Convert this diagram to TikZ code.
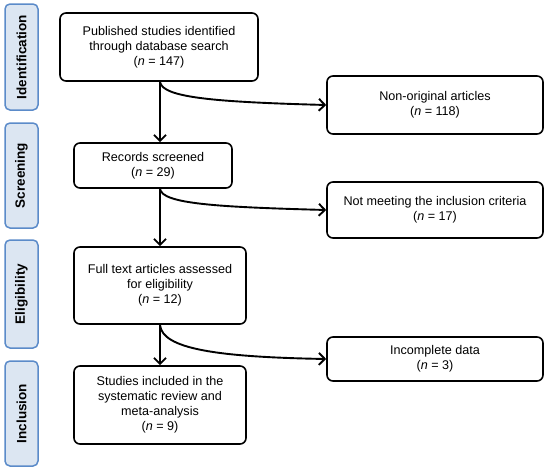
\documentclass[tikz,border=0pt]{standalone}
\usepackage{fontspec}
\setmainfont{Liberation Sans}
\usetikzlibrary{positioning,arrows.meta}
\definecolor{stageblue}{HTML}{5B8BC9}
\definecolor{stagefill}{HTML}{DCE6F2}
\tikzset{
  box/.style={draw,line width=1.6pt,rounded corners=6pt,fill=white,align=center,
    font=\fontsize{12.6}{15}\selectfont,inner sep=2pt},
  stage/.style={draw=stageblue,fill=stagefill,line width=1.5pt,rounded corners=5pt,
    rotate=90,font=\fontsize{13.5}{16}\selectfont\bfseries,minimum height=33pt,inner sep=0pt},
  flow/.style={line width=1.9pt,-{Straight Barb[length=6pt,width=12pt]}}
}
\begin{document}
\begin{tikzpicture}[x=1pt,y=-1pt]
	\useasboundingbox (0,0) rectangle (550,472);
	% stages
	\node[stage,minimum width=106pt] (ident) at (21.5,57) {Identification};
	\node[stage,minimum width=105pt] (screen) at (21.5,175.5) {Screening};
	\node[stage,minimum width=108pt] (elig) at (21.5,294) {Eligibility};
	\node[stage,minimum width=105pt] (incl) at (21.5,413.5) {Inclusion};
	% main boxes
	\node[box,minimum width=198pt,minimum height=68pt] (pub) at (159,47) {Published studies identified\\through database search\\(\textit{n} = 147)};
	\node[box,minimum width=158pt,minimum height=45pt] (rec) at (153,165.5) {Records screened\\(\textit{n} = 29)};
	\node[box,minimum width=172pt,minimum height=77pt] (full) at (160,285.5) {Full text articles assessed\\for eligibility\\(\textit{n} = 12)};
	\node[box,minimum width=172pt,minimum height=78pt] (incd) at (160,405) {Studies included in the\\systematic review and\\meta-analysis\\(\textit{n} = 9)};
	% excluded
	\node[box,minimum width=216pt,minimum height=58pt] (nonorig) at (435,105) {Non-original articles\\(\textit{n} = 118)};
	\node[box,minimum width=216pt,minimum height=56pt] (notmeet) at (435,210) {Not meeting the inclusion criteria\\(\textit{n} = 17)};
	\node[box,minimum width=216pt,minimum height=44pt] (incomp) at (435,359) {Incomplete data\\(\textit{n} = 3)};
	% arrows
	\draw[flow] ([xshift=1pt]pub.south) -- ([xshift=1pt]pub.south |- rec.north);
	\draw[flow] ([xshift=7pt]rec.south) -- ([xshift=7pt]rec.south |- full.north);
	\draw[flow] (full.south) -- (incd.north);
	\draw[flow] ([xshift=1pt]pub.south) .. controls +(2,16) and +(-110,-3) .. (nonorig.west);
	\draw[flow] ([xshift=7pt]rec.south) .. controls +(2,15) and +(-110,-3) .. (notmeet.west);
	\draw[flow] (full.south) .. controls +(2,24) and +(-110,-2) .. (incomp.west);
\end{tikzpicture}
\end{document}
